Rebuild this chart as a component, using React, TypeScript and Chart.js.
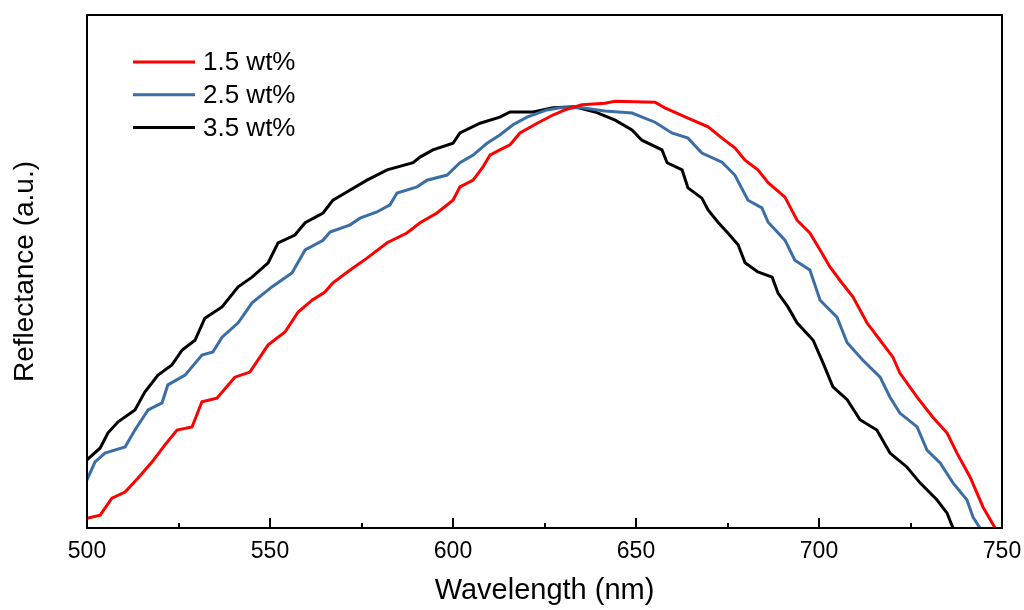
import React, { useEffect, useRef } from "react";
import { Chart, registerables } from "chart.js";

Chart.register(...registerables);

const seriesLabels = ["1.5 wt%", "2.5 wt%", "3.5 wt%"];
const seriesColors = ["#ff0000", "#3b6ea5", "#000000"];

const redWavelength = [500, 503.6, 506.8, 510.4, 513.9, 517.8, 521.3, 524.6, 528.7, 531.4, 535.5, 540.4, 544.5, 549.5, 554.1, 557.7, 561.5, 565.0, 567.2, 571.9, 576.5, 582.0, 587.4, 591.0, 595.6, 600.0, 601.9, 605.5, 608.2, 610.1, 612.8, 615.6, 618.3, 623.0, 627.3, 630.6, 635.2, 641.5, 644.3, 655.2, 657.9, 664.2, 669.7, 673.5, 677.0, 679.8, 683.3, 686.1, 690.7, 694.0, 697.5, 700.3, 703.0, 705.7, 709.3, 713.1, 716.7, 720.2, 722.1, 726.8, 731.1, 735.0, 737.7, 741.3, 744.8, 748.1];
const redReflectance = [1.9, 2.5, 5.8, 7.0, 9.7, 12.9, 16.2, 19.1, 19.7, 24.6, 25.3, 29.4, 30.4, 35.7, 38.2, 42.1, 44.4, 46.0, 47.8, 50.3, 52.6, 55.6, 57.5, 59.5, 61.4, 63.9, 66.5, 67.8, 70.4, 72.7, 73.7, 74.7, 77.0, 78.9, 80.5, 81.5, 82.5, 82.8, 83.2, 83.0, 81.9, 79.9, 78.2, 76.0, 74.1, 71.7, 69.8, 67.3, 64.5, 60.0, 57.5, 54.2, 50.9, 48.3, 45.0, 40.0, 36.6, 33.3, 30.2, 25.5, 21.6, 18.5, 14.6, 9.9, 4.1, 0];

const blueWavelength = [500, 502.2, 504.9, 510.4, 513.1, 516.7, 520.5, 522.1, 526.8, 531.4, 534.4, 536.9, 541.3, 545.1, 550.5, 556.0, 559.6, 564.5, 566.4, 571.9, 574.6, 579.2, 582.8, 584.7, 590.2, 592.9, 598.4, 601.9, 605.5, 609.3, 612.8, 616.4, 620.2, 625.7, 629.2, 635.2, 641.5, 648.9, 655.2, 659.8, 664.2, 668.0, 673.5, 677.0, 680.6, 684.4, 686.1, 690.7, 693.4, 697.5, 700.3, 704.9, 707.7, 712.0, 716.7, 719.4, 722.1, 726.8, 729.5, 733.1, 736.6, 740.4, 742.1, 744.0];
const blueReflectance = [9.4, 12.9, 14.6, 15.8, 19.1, 23.0, 24.4, 27.9, 29.8, 33.7, 34.3, 37.2, 40.0, 43.9, 47.0, 49.7, 54.2, 56.1, 57.7, 59.1, 60.4, 61.6, 63.0, 65.3, 66.5, 67.8, 68.8, 71.2, 72.7, 75.0, 76.6, 78.6, 80.1, 81.5, 81.9, 81.9, 81.3, 80.9, 79.1, 77.0, 76.0, 73.1, 71.3, 68.8, 63.9, 62.4, 59.6, 56.1, 52.2, 50.3, 44.4, 41.1, 36.1, 32.7, 29.4, 25.5, 22.4, 19.7, 15.2, 12.7, 8.8, 5.5, 2.1, 0];

const blackWavelength = [500, 503.6, 505.7, 508.5, 513.1, 515.8, 519.4, 523.2, 526.0, 529.5, 532.2, 536.9, 541.3, 545.1, 549.5, 552.2, 556.8, 559.6, 564.5, 567.2, 571.0, 576.5, 582.0, 589.1, 591.0, 594.5, 600.0, 601.9, 607.4, 612.8, 615.6, 621.9, 627.3, 633.3, 638.8, 644.3, 648.9, 651.6, 657.1, 658.5, 662.6, 664.2, 668.0, 669.7, 672.4, 675.1, 677.9, 679.8, 683.3, 687.2, 688.8, 691.5, 694.0, 698.4, 701.1, 703.8, 707.7, 711.2, 715.8, 719.4, 724.0, 727.6, 732.2, 735.0, 736.6];
const blackReflectance = [13.3, 15.6, 18.5, 20.7, 23.0, 26.5, 29.8, 31.8, 34.7, 36.6, 40.9, 43.1, 47.0, 48.9, 51.7, 55.6, 57.1, 59.5, 61.4, 63.9, 65.5, 67.8, 69.8, 71.2, 72.3, 73.7, 75.0, 77.0, 78.9, 80.1, 81.1, 81.1, 81.9, 82.1, 81.1, 79.5, 77.6, 75.6, 73.7, 71.2, 69.8, 66.3, 64.3, 62.0, 59.6, 57.5, 55.2, 51.7, 49.9, 48.9, 45.8, 43.1, 40.0, 36.6, 32.2, 27.5, 25.0, 21.1, 19.1, 14.6, 11.9, 8.8, 5.5, 2.9, 0];

const xMin = 500;
const xMax = 750;
const xMajorStep = 50;
const xMinorStep = 25;

const FONT = "'Liberation Sans', Arial, Helvetica, sans-serif";

function zip(xs: number[], ys: number[]) {
  const n = Math.min(xs.length, ys.length);
  const out: { x: number; y: number }[] = [];
  for (let i = 0; i < n; i++) out.push({ x: xs[i], y: ys[i] });
  return out;
}

const framePlugin = {
  id: "frameAndTicks",
  afterDatasetsDraw(chart: any) {
    const { ctx, chartArea, scales } = chart;
    const xs = scales.x;
    ctx.save();
    ctx.strokeStyle = "#000";
    ctx.lineWidth = 2;
    for (let v = xMin; v <= xMax + 1e-6; v += xMinorStep) {
      const px = Math.round(xs.getPixelForValue(v));
      const major = Math.abs((v - xMin) % xMajorStep) < 1e-6;
      const len = major ? 10 : 5;
      ctx.beginPath();
      ctx.moveTo(px, chartArea.bottom);
      ctx.lineTo(px, chartArea.bottom - len);
      ctx.stroke();
    }
    ctx.strokeRect(chartArea.left, chartArea.top, chartArea.right - chartArea.left, chartArea.bottom - chartArea.top);

    const ds = chart.data.datasets;
    const lx0 = chartArea.left + 46;
    const lx1 = chartArea.left + 108;
    const tx = chartArea.left + 116;
    ctx.font = `26px ${FONT}`;
    ctx.textBaseline = "middle";
    ctx.textAlign = "left";
    for (let i = 0; i < ds.length; i++) {
      const y = chartArea.top + 47 + i * 32.7;
      ctx.strokeStyle = ds[i].borderColor;
      ctx.lineWidth = 3;
      ctx.beginPath();
      ctx.moveTo(lx0, y);
      ctx.lineTo(lx1, y);
      ctx.stroke();
      ctx.fillStyle = "#000";
      ctx.fillText(ds[i].label, tx, y + 1);
    }
    ctx.restore();
  },
};

export default function App() {
  const canvasRef = useRef<HTMLCanvasElement | null>(null);

  useEffect(() => {
    document.body.style.margin = "0";
    const canvas = canvasRef.current;
    if (!canvas) return;
    const seriesData = [
      zip(redWavelength, redReflectance),
      zip(blueWavelength, blueReflectance),
      zip(blackWavelength, blackReflectance),
    ];
    const chart = new Chart(canvas, {
      type: "line",
      data: {
        datasets: seriesData.map((d, i) => ({
          label: seriesLabels[i],
          data: d,
          borderColor: seriesColors[i],
          backgroundColor: seriesColors[i],
          borderWidth: 3,
          pointRadius: 0,
          tension: 0,
          fill: false,
        })),
      },
      options: {
        responsive: false,
        animation: false,
        devicePixelRatio: 1,
        layout: { padding: { left: 0, right: 22, top: 15, bottom: 0 } },
        plugins: {
          legend: { display: false },
          tooltip: { enabled: false },
        },
        scales: {
          x: {
            type: "linear",
            min: xMin,
            max: xMax,
            ticks: {
              stepSize: xMajorStep,
              color: "#000",
              font: { family: FONT, size: 23 },
              padding: 10,
              maxRotation: 0,
            },
            grid: { display: false, drawTicks: false },
            border: { display: false },
            title: {
              display: true,
              text: "Wavelength (nm)",
              color: "#000",
              font: { family: FONT, size: 29 },
              padding: { top: 0, bottom: 2 },
            },
            afterFit: (scale: any) => {
              scale.height = 82;
              scale.paddingLeft = 0;
              scale.paddingRight = 0;
            },
          },
          y: {
            min: 0,
            max: 100,
            ticks: { display: false },
            grid: { display: false, drawTicks: false },
            border: { display: false },
            title: {
              display: true,
              text: "Reflectance (a.u.)",
              color: "#000",
              font: { family: FONT, size: 28 },
              padding: { top: 8, bottom: 0 },
            },
            afterFit: (scale: any) => {
              scale.width = 87;
            },
          },
        },
      },
      plugins: [framePlugin],
    });
    return () => chart.destroy();
  }, []);

  return (
    <div style={{ width: 1024, height: 610, background: "#fff" }}>
      <canvas ref={canvasRef} width={1024} height={610} style={{ display: "block" }} />
    </div>
  );
}
